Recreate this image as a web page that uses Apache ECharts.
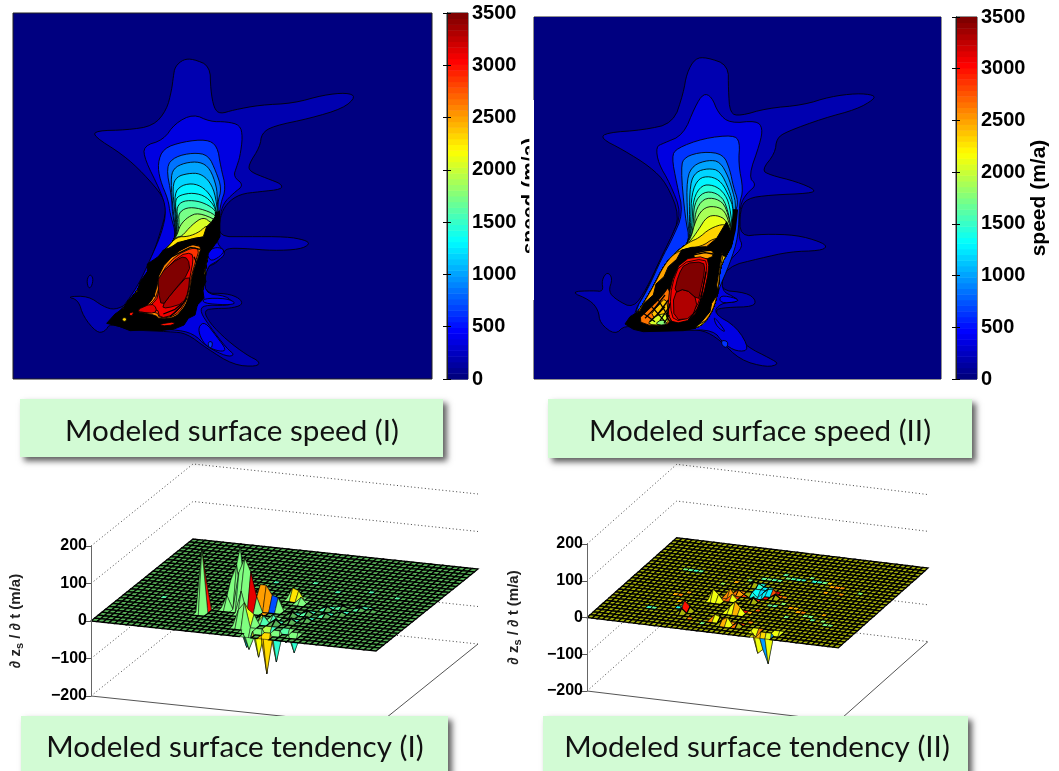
<!DOCTYPE html>
<html><head><meta charset="utf-8">
<style>html,body{margin:0;padding:0;background:#fff}#c{width:1059px;height:771px}</style>
<script src="https://cdn.jsdelivr.net/npm/echarts@6/dist/echarts.min.js"></script>
</head><body><div id="c"></div>
<script>
// ---------- data: speed maps (map units, contour level in m/a) ----------
const colorbarTicks = [0,500,1000,1500,2000,2500,3000,3500];
const zTicks = [-200,-100,0,100,200];
const captions = ['Modeled surface speed (I)','Modeled surface speed (II)','Modeled surface tendency (I)','Modeled surface tendency (II)'];

const tail1 = [[476,560],[462,610],[440,650],[428,770],[385,835],[345,868],[210,866],[150,845],[195,800],[240,740],[275,670],[320,625],[350,590]];
const levels1 = [170,170,330,620,850,1000,1150,1300,1420,1550,1700,1850,2050,2250,2450,420,420,620,420];
const contours1 = [
 [[340,110],[345,80],[370,58],[400,57],[450,78],[452,150],[462,205],[480,222],[520,210],[600,195],[700,190],[790,165],[860,158],[888,170],[850,205],[750,235],[640,258],[605,280],[600,320],[565,375],[570,395],[620,415],[665,432],[665,448],[600,455],[540,462],[500,490],[480,530],[475,590],[560,590],[680,590],[735,600],[750,612],[720,628],[640,632],[550,625],[500,625],[490,640],[470,670],[440,680],[430,760],[500,760],[540,775],[548,795],[510,805],[470,805],[430,810],[450,850],[500,900],[560,945],[600,965],[590,980],[520,975],[440,925],[380,880],[330,875],[210,870],[150,850],[135,875],[110,878],[70,830],[55,780],[20,770],[85,768],[130,800],[165,810],[205,790],[240,730],[280,640],[300,580],[320,510],[310,470],[250,400],[190,345],[100,288],[110,272],[200,270],[280,258],[320,210],[335,150]],
 [[80,720],[90,702],[100,715],[95,740],[85,745]],
 [[250,318],[310,300],[345,250],[400,222],[450,245],[500,245],[540,255],[548,290],[540,350],[530,380],[520,410],[552,435],[520,460],[490,490],[480,530],[478,590],[470,610],[500,640],[470,665],[440,680],[430,760],[500,768],[520,790],[500,797],[430,795],[420,815],[450,860],[500,925],[525,945],[500,950],[440,920],[400,880],[340,868],[210,866],[150,846],[190,800],[235,735],[270,660],[305,580],[320,510],[300,450],[255,360]],
 [[293,370],[310,325],[370,305],[440,298],[472,318],[482,380],[498,445],[482,490],[478,530]].concat(tail1,[[330,520],[325,480],[300,420]]),
 [[318,380],[345,350],[400,338],[445,345],[468,395],[485,445],[472,490]].concat(tail1,[[337,520],[335,470]]),
 [[332,420],[340,385],[375,368],[420,365],[450,385],[470,440],[472,480]].concat(tail1,[[340,520]]),
 [[337,440],[350,410],[385,400],[420,400],[450,425],[468,470]].concat(tail1,[[345,520]]),
 [[343,460],[365,435],[405,430],[440,450],[465,490]].concat(tail1,[[348,530]]),
 [[345,480],[360,465],[400,458],[440,470],[468,505]].concat(tail1,[[350,530]]),
 [[350,500],[370,482],[410,482],[445,495],[470,515]].concat(tail1,[[353,540]]),
 [[355,520],[380,502],[420,505],[470,525]].concat(tail1,[[358,550]]),
 [[360,555],[385,530],[415,518],[470,540]].concat(tail1),
 [[365,590],[395,555],[430,530],[455,550],[470,545]].concat(tail1),
 [[385,590],[420,575],[440,555],[465,570]].concat(tail1),
 [[380,600],[425,590],[440,600],[440,650],[428,770],[385,835],[345,868],[210,866],[150,845],[195,800],[240,740],[275,670],[320,625]],
 [[415,860],[435,845],[470,890],[500,930],[480,935],[440,920],[420,890]],
 [[440,635],[470,620],[495,630],[480,650],[450,665]],
 [[445,905],[458,905],[455,925],[445,920]],
 [[430,775],[500,775],[530,790],[500,795],[430,790]]
];
const blackBlob1 = [[478,512],[480,590],[462,618],[445,640],[440,660],[432,700],[438,725],[428,745],[432,775],[412,795],[405,825],[385,835],[372,855],[340,868],[300,872],[250,870],[210,872],[180,860],[140,850],[165,822],[190,805],[205,780],[232,755],[240,725],[262,695],[262,672],[295,650],[310,630],[335,622],[352,608],[385,600],[430,590],[440,560],[455,545]];
const coreLevels1 = [2600,2850,3100,3300,3450,3120,3000,2300,3000];
const core1 = [
 [[300,690],[345,640],[400,610],[425,618],[412,660],[398,700],[388,760],[376,800],[348,832],[300,838],[285,825],[245,818],[232,812],[270,790],[288,755]],
 [[305,695],[350,645],[400,622],[418,628],[405,670],[394,710],[384,765],[370,800],[345,828],[300,836],[290,815],[240,818],[234,812],[275,790],[292,765]],
 [[300,705],[360,645],[395,638],[400,660],[390,710],[383,760],[368,795],[340,825],[300,835],[292,805],[245,815],[278,792],[295,770]],
 [[305,800],[335,760],[390,700],[385,755],[370,790],[320,805]],
 [[295,705],[360,650],[385,655],[390,695],[335,760],[305,800],[295,755]],
 [[230,810],[275,790],[290,805],[285,820],[245,817]],
 [[205,820],[222,815],[215,830]],
 [[185,835],[198,832],[200,842],[190,845]],
 [[300,852],[345,845],[340,855],[305,858]]
];
const stairs1 = [
 [[345,632],[398,606],[428,612]],[[335,642],[395,613],[425,620]],[[325,655],[392,622],[420,628]],[[338,636],[396,610],[426,616]],
 [[402,650],[415,680],[405,730]],[[392,740],[400,760],[380,810]],[[350,830],[375,800],[392,770]],[[280,720],[276,750],[285,770]],[[262,770],[272,745],[282,715]],[[330,830],[362,800],[380,775]],[[310,822],[345,808],[368,790]]
];
const bandThin1 = [[[472,515],[472,560],[462,610]]];

const mapFrame2 = [[[-108,-99],[1113,-99],[1113,987],[-108,987]]];
const frameLevels2 = [0];
const labelMask2 = [[-122,150],[-108,150],[-108,750],[-122,750]];
const tail2 = [[490,570],[478,600],[450,650],[445,720],[430,780],[395,830],[350,838],[220,838],[175,815],[205,785],[250,710],[285,640],[325,600],[360,575]];
const levels2 = [170,330,620,850,1000,1150,1300,1450,1600,1750,1900,2100,2300,2500,420,620,420];
const contours2 = [
 [[340,130],[350,70],[375,25],[410,22],[475,45],[475,120],[480,190],[510,198],[590,175],[700,165],[780,140],[860,130],[912,135],[912,148],[860,178],[760,205],[650,245],[620,265],[615,310],[575,360],[600,375],[680,395],[738,420],[720,430],[600,435],[530,445],[510,480],[510,560],[580,552],[680,555],[750,575],[772,590],[750,602],[660,605],[570,625],[470,650],[445,720],[530,728],[558,750],[550,770],[470,772],[430,780],[470,830],[530,890],[600,925],[628,942],[590,952],[510,930],[450,870],[400,840],[340,840],[220,840],[165,825],[135,855],[90,820],[85,780],[60,750],[0,725],[70,722],[100,725],[95,690],[112,665],[128,685],[115,725],[140,750],[190,775],[230,715],[270,630],[300,570],[330,500],[290,400],[240,350],[160,300],[92,265],[110,248],[220,240],[310,220]],
 [[258,290],[280,280],[340,255],[375,170],[400,130],[425,140],[445,190],[480,220],[560,212],[578,235],[570,280],[535,380],[560,405],[530,430],[510,465],[505,560],[520,590],[480,630],[470,650],[450,720],[500,745],[505,755],[450,760],[430,790],[500,830],[540,900],[500,905],[460,880],[430,840],[340,840],[220,838],[185,800],[230,720],[270,630],[305,560],[335,490],[300,400],[265,340]],
 [[305,320],[320,295],[400,265],[490,255],[510,275],[505,340],[520,420],[508,460],[505,560],[480,640],[445,720],[430,780],[395,835],[220,835],[190,790],[235,715],[275,625],[305,570],[340,490],[320,400]],
 [[332,350],[345,320],[400,305],[460,312],[480,360],[490,410],[505,455],[495,490]].concat(tail2,[[345,500]]),
 [[350,385],[370,345],[415,330],[450,335],[475,380],[490,430],[498,465]].concat(tail2,[[352,500]]),
 [[360,400],[378,365],[415,355],[450,362],[478,420],[490,465]].concat(tail2,[[358,510]]),
 [[365,430],[385,385],[420,378],[455,395],[480,445],[490,475]].concat(tail2,[[362,510]]),
 [[370,445],[395,405],[430,405],[460,425],[480,465]].concat(tail2,[[366,520]]),
 [[372,460],[400,425],[440,428],[470,460]].concat(tail2,[[370,530]]),
 [[375,485],[400,445],[440,445],[470,470]].concat(tail2,[[374,540]]),
 [[378,505],[405,470],[445,470],[470,490]].concat(tail2),
 [[385,540],[410,500],[440,495],[470,510]].concat(tail2),
 [[385,565],[420,535],[465,520],[470,540]].concat(tail2),
 [[395,590],[430,565],[465,565],[470,580],[450,650],[445,720],[430,780],[395,830],[220,838],[175,815],[205,785],[250,710],[285,640],[325,600]],
 [[430,800],[445,815],[470,850],[440,830]],
 [[455,870],[475,875],[470,895],[455,885]],
 [[450,735],[500,745],[505,755],[450,760]]
];
const blackBlob2 = [[470,515],[488,560],[478,590],[455,610],[448,655],[440,705],[445,730],[425,760],[420,785],[395,815],[375,835],[340,842],[220,845],[190,838],[165,822],[180,800],[210,782],[222,760],[250,735],[258,702],[282,680],[295,650],[320,628],[335,600],[365,592],[410,590],[440,565]];
const coreLevels2 = [2650,2400,2050,1750,2500,3000,3100,3300,3450];
const core2 = [
 [[200,812],[245,770],[275,740],[300,705],[295,790],[305,820],[250,830]],
 [[240,798],[262,768],[288,742],[296,790],[285,812]],
 [[232,818],[262,795],[290,790],[296,822],[250,826]],
 [[255,822],[275,808],[292,818],[280,826]],
 [[370,612],[410,598],[432,605],[425,625],[375,628]],
 [[335,628],[410,618],[418,655],[398,745],[368,808],[310,822],[292,790],[300,705]],
 [[330,640],[405,625],[412,655],[392,745],[362,802],[312,815],[300,770],[305,705]],
 [[310,730],[345,715],[385,750],[365,805],[312,810]],
 [[325,675],[345,640],[400,635],[405,660],[390,730],[385,750],[345,715],[312,730]]
];
const stairs2 = [
 [[345,620],[405,608],[430,612]],[[360,612],[410,602],[432,600]],[[250,780],[285,735]],[[262,795],[295,750]],[[270,812],[298,770]],[[282,820],[298,795]],
 [[225,805],[270,760]],[[240,815],[285,770]],[[220,790],[255,815]],[[245,770],[285,815]],[[265,750],[295,800]],
 [[300,760],[290,800],[305,822]],[[408,665],[398,720],[388,770]],[[355,810],[380,780],[395,745]]
];
const bandThin2 = [[[497,478],[490,540],[478,590],[460,618]]];

// ---------- data: tendency surfaces ----------
// heights: [column, row, dz/dt in m/a]; cell colours: [column, row, colour index]
const surfaceBase1 = 0.5, surfaceBase2 = 0.61;
const heights1 = [
 [15,6,170],[15,7,90],[19,10,150],[19,9,110],[21,8,140],[20,8,100],[22,8,105],[21,7,60],
 [18,9,67],[18,8,35],[23,9,65],[24,9,65],[23,8,40],[25,9,40],[26,9,35],[26,13,30],[27,13,24],[28,12,16],[24,3,65],[23,3,45],[24,4,40],[25,4,28],[23,5,30],[26,5,18],
 [29,1,-100],[25,2,-44],[27,2,-67],[30,2,-75],[33,2,-45],[26,1,-40],[31,3,-30],[28,3,-28],
 [28,5,12],[30,6,10],[32,7,8],[34,9,7],[36,10,6],[38,12,5],[40,12,4],[29,8,10],[31,9,8],[33,11,8],[35,12,5],[27,6,14],[25,6,10]
];
const colors1 = [
 [15,6,.86],[19,10,.36],[18,10,.36],[21,8,.9],[22,8,.9],[22,7,.9],[23,8,.72],[23,9,.72],[24,8,.72],[24,9,.22],[25,9,.22],[25,8,.2],[24,7,.72],[26,13,.63],[25,13,.63],[26,12,.65],[27,12,.6],[24,3,.6],[23,3,.66],[24,4,.6],
 [28,1,.66],[29,1,.68],[29,0,.66],[28,0,.68],[26,1,.6],[25,1,.35],[27,1,.62],[30,1,.42],[33,1,.42],
 [27,5,.45],[28,5,.44],[29,6,.46],[30,6,.44],[31,7,.45],[32,7,.43],[33,8,.46],[34,9,.44],[35,10,.46],[36,10,.44],[37,11,.46],[38,12,.44],[39,12,.46],[29,8,.44],[30,8,.46],[31,9,.44],[32,10,.45],[33,11,.44],[34,11,.46],[26,4,.45],[28,3,.44],[30,3,.46],[27,3,.55],[25,5,.58],[12,10,.45],[6,9,.46],[20,17,.45],[26,18,.46],[31,16,.45],[36,17,.45],[41,16,.46]
];
const heights2 = [
 [15,6,25],[15,5,12],[16,6,10],[18,10,30],[19,10,18],[20,12,20],[21,11,14],[24,7,30],[23,7,14],[25,7,16],[25,3,20],[24,3,12],[22,4,15],[23,4,10],[27,3,10],
 [24,13,-20],[25,13,-24],[24,14,-14],[23,13,-8],[22,16,10],[23,16,8],[26,14,12],[27,14,14],[28,13,10],[25,11,12],[21,13,10],
 [32,1,-50],[33,1,-38],[34,1,-75],[31,2,-16],[35,2,-18]
];
const colors2 = [
 [15,6,.62],[14,6,.62],[14,5,.4],[15,5,.86],[18,10,.63],[17,10,.62],[19,10,.76],[20,12,.76],[21,11,.82],[20,11,.72],[24,7,.62],[23,7,.62],[24,6,.7],[25,7,.86],[25,3,.74],[24,3,.72],[24,2,.7],[22,4,.64],[23,4,.76],[27,3,.8],
 [24,13,.36],[25,13,.37],[24,14,.34],[23,13,.4],[25,12,.38],[22,16,.44],[23,16,.4],[26,14,.84],[27,14,.88],[28,13,.78],[25,11,.8],[21,13,.74],
 [32,1,.66],[31,1,.7],[33,1,.6],[34,1,.3],[33,0,.28],[31,2,.74],[35,2,.6],
 [8,18,.48],[9,18,.44],[10,18,.48],[7,18,.5],[8,5,.44],[9,5,.48],[31,19,.42],[30,20,.5],[32,19,.44],[33,19,.5],[25,20,.48],[27,19,.46],[28,19,.5],[41,17,.52],[36,8,.52],[33,7,.5],[40,7,.52],[28,10,.5],[29,10,.48],[30,11,.52],[20,17,.52],[16,15,.54],[35,16,.7],[38,16,.72],[18,16,.7],[39,9,.7],[17,3,.74],[20,2,.5],
 [19,11,.74],[20,10,.78],[21,12,.72],[22,12,.8],[20,13,.76],[23,14,.38],[24,15,.36],[25,14,.34],[25,15,.4],[26,13,.36],[23,15,.42],[26,12,.86],[27,13,.8],[29,13,.72],[22,7,.7],[26,7,.7],[27,8,.76],[21,3,.74],[26,2,.76],[26,3,.4],[28,4,.72],[12,8,.68],[13,6,.4],
 [22,18,.48],[23,18,.5],[24,18,.46],[25,18,.48],[26,19,.5],[28,19,.46],[29,19,.44],[34,19,.66],[35,18,.7],[36,18,.74],[37,18,.72],[32,10,.72],[33,10,.68],[34,9,.7],[35,9,.74],[37,8,.5],[38,7,.48],[41,6,.5],[42,6,.52],[10,10,.7],[11,10,.74],[12,11,.7]
];

// ---------- helpers ----------
const NU = 48, NV = 28;
function jet(t,k){
  t = Math.max(0,Math.min(1,t));
  const f = k===undefined?1:k;
  const c = x => Math.round(f*255*Math.max(0,Math.min(1,1.5-Math.abs(4*t-x))));
  return 'rgb('+c(3)+','+c(2)+','+c(1)+')';
}
function jetLevel(v){ return jet(Math.floor(Math.min(v,3499.9)/3500*64)/63); }
// corner cutting of a closed outline, only to draw contour lines as curves
function rounded(pts,n){
  let out=pts;
  for(let k=0;k<n;k++){
    const nx=[];
    out.forEach((p,i)=>{
      const q=out[(i+1)%out.length];
      nx.push([.75*p[0]+.25*q[0],.75*p[1]+.25*q[1]],[.25*p[0]+.75*q[0],.25*p[1]+.75*q[1]]);
    });
    out=nx;
  }
  return out;
}
function contourSeries(grid, levels, polys, z, width, smooth){
  return {type:'custom',xAxisIndex:grid.x,yAxisIndex:grid.y,clip:true,z:z,silent:true,animation:false,progressive:0,
    data:polys.map((p,i)=>[i,0]),
    renderItem:function(params,api){
      const i=api.value(0);
      return {type:'polygon',shape:{points:rounded(polys[i],smooth).map(p=>api.coord(p))},
        style:{fill:jetLevel(levels[i]),stroke:width?'rgba(0,0,0,0.85)':null,lineWidth:width}};
    }};
}
function pathSeries(grid, paths, width, z){
  return paths.map(p=>({type:'line',xAxisIndex:grid.x,yAxisIndex:grid.y,data:p,showSymbol:false,silent:true,animation:false,z:z,
    lineStyle:{color:'#000',width:width}}));
}
function fillBlob(grid, pts, z, fill){
  return {type:'custom',xAxisIndex:grid.x,yAxisIndex:grid.y,z:z,silent:true,animation:false,data:[[0,0]],clip:false,
    renderItem:(params,api)=>({type:'polygon',shape:{points:pts.map(p=>api.coord(p))},style:{fill:fill,stroke:fill==='#000'?'#000':null,lineWidth:1}})};
}
function colorbarSeries(grid){
  const bands = Array.from({length:64},(_,k)=>[k,k*3500/64]);
  return {type:'custom',xAxisIndex:grid.x,yAxisIndex:grid.y,z:2,silent:true,animation:false,data:bands,
    renderItem:function(params,api){
      const k=api.value(0), lo=api.value(1), hi=lo+3500/64;
      const a=api.coord([0,lo]), b=api.coord([1,hi]);
      return {type:'rect',shape:{x:a[0],y:b[1],width:b[0]-a[0],height:a[1]-b[1]+0.5},style:{fill:jet(k/63)}};
    }};
}
function surfaceParts(grid, proj, heights, colors, base){
  const Z = {}, C = {};
  heights.forEach(b=>{ Z[b[0]+'_'+b[1]]=b[2]; });
  colors.forEach(b=>{ C[b[0]+'_'+b[1]]=b[2]; });
  const z=(i,j)=>Z[i+'_'+j]||0;
  const P=(i,j,h)=>[proj.ux*i/NU+proj.vx*j/NV, h+proj.uz*i/NU+proj.vz*j/NV];
  const cells=[];
  for(let j=NV-1;j>=0;j--) for(let i=0;i<NU;i++) cells.push([i,j]);
  const surface={type:'custom',xAxisIndex:grid.x,yAxisIndex:grid.y,z:3,clip:false,silent:true,animation:false,progressive:0,
    data:cells,
    renderItem:function(params,api){
      const i=api.value(0), j=api.value(1);
      const corners=[[i,j],[i+1,j],[i+1,j+1],[i,j+1]];
      const pts=corners.map(q=>api.coord(P(q[0],q[1],z(q[0],q[1]))));
      const c=C[i+'_'+j];
      const steep=corners.some(q=>Math.abs(z(q[0],q[1]))>12);
      const flat=c===undefined&&!steep;
      return {type:'polygon',shape:{points:pts},style:{fill:flat?jet(base,0.7):jet(c===undefined?base:c),stroke:'#000',lineWidth:steep?0.5:(c===undefined?1.3:1)}};
    }};
  const wall=zTicks.map(h=>({type:'line',xAxisIndex:grid.x,yAxisIndex:grid.y,z:1,clip:false,silent:true,animation:false,showSymbol:false,
    data:[P(0,0,h),P(0,NV,h),P(NU,NV,h)],lineStyle:{color:'#444',width:1,type:[1,2.5]}}));
  const floor={type:'line',xAxisIndex:grid.x,yAxisIndex:grid.y,z:1,clip:false,silent:true,animation:false,showSymbol:false,
    data:[P(0,0,-200),P(NU,0,-200),P(NU,NV,-200)],lineStyle:{color:'#555',width:1}};
  return [floor].concat(wall,[surface]);
}

// ---------- layout ----------
const FONT='"Liberation Sans",Arial,sans-serif';
const grids=[
 {left:13,top:13,width:419,height:366},           // 0 map I
 {left:534,top:17,width:407,height:362},          // 1 map II
 {left:447,top:13,width:21,height:366},           // 2 bar I
 {left:956,top:17,width:21,height:362},           // 3 bar II
 {left:91,top:546,width:388,height:150},          // 4 surface I
 {left:587,top:544,width:344,height:147}          // 5 surface II
].map((g,i)=>Object.assign({show:i<4,borderColor:'#222',borderWidth:1,backgroundColor:i<2?jet(0):'transparent'},g));

const hiddenX=(g,min,max)=>({type:'value',gridIndex:g,min,max,show:false});
const xAxes=[hiddenX(0,-141,1116),hiddenX(1,-108,1113),hiddenX(2,0,1),hiddenX(3,0,1),hiddenX(4,0,1),hiddenX(5,0,1)];
const hiddenY=(g,min,max)=>({type:'value',gridIndex:g,min,max,inverse:true,show:false});
function barAxis(g,pos,labels){
  return {type:'value',gridIndex:g,position:pos,min:0,max:3500,interval:500,z:5,
    axisLine:{show:true,lineStyle:{color:'#222'}},splitLine:{show:false},
    axisTick:{show:true,inside:true,length:4,lineStyle:{color:'#000'}},
    axisLabel:{show:labels,margin:4,color:'#000',fontFamily:FONT,fontWeight:'bold',fontSize:20,
      formatter:v=>String(v),showMinLabel:true,showMaxLabel:true}};
}
function nameAxis(g,gap){
  return {type:'value',gridIndex:g,position:'right',min:0,max:3500,z:0,
    axisLine:{show:false},axisTick:{show:false},axisLabel:{show:false},splitLine:{show:false},
    name:'speed (m/a)',nameLocation:'middle',nameGap:gap,nameRotate:90,
    nameTextStyle:{color:'#000',fontFamily:FONT,fontWeight:'bold',fontSize:21}};
}
function zAxis(g,gap){
  return {type:'value',gridIndex:g,position:'left',min:-200,max:200,interval:100,z:6,
    axisLine:{show:true,onZero:false,lineStyle:{color:'#666',width:1}},
    axisTick:{show:true,length:6,lineStyle:{color:'#555'}},splitLine:{show:false},
    axisLabel:{margin:4,color:'#000',fontFamily:FONT,fontWeight:'bold',fontSize:16,
      formatter:v=>String(v).replace('-','\u2212')},
    name:'{a|\u2202 z}{s|s}{a| / \u2202 t (m/a)}',nameLocation:'middle',nameGap:gap,nameRotate:90,
    nameTextStyle:{color:'#222',fontFamily:FONT,rich:{
      a:{fontFamily:FONT,fontSize:15,color:'#222',fontWeight:'bold'},
      s:{fontFamily:FONT,fontSize:11,color:'#222',fontWeight:'bold',padding:[8,0,0,0]}}}};
}
const yAxes=[
 hiddenY(0,-81,1017),hiddenY(1,-99,987),
 barAxis(2,'right',true),barAxis(2,'left',false),nameAxis(2,52),
 barAxis(3,'right',true),barAxis(3,'left',false),nameAxis(3,52),
 zAxis(4,66),zAxis(5,64)
];
const mapI={x:0,y:0}, mapII={x:1,y:1};
const series=[].concat(
 contourSeries(mapI,levels1,contours1,2,1,2),
 fillBlob(mapI,blackBlob1,3,'#000'),
 pathSeries(mapI,bandThin1,5,3),
 contourSeries(mapI,coreLevels1,core1,4,1,1),
 pathSeries(mapI,stairs1,1.3,5),
 fillBlob(mapII,labelMask2,2,'#fff'),
 contourSeries(mapII,frameLevels2,mapFrame2,2,0,0),
 contourSeries(mapII,levels2,contours2,2,1,2),
 fillBlob(mapII,blackBlob2,3,'#000'),
 pathSeries(mapII,bandThin2,5,3),
 contourSeries(mapII,coreLevels2,core2,4,1,1),
 pathSeries(mapII,stairs2,1.3,5),
 colorbarSeries({x:2,y:2}),
 colorbarSeries({x:3,y:5}),
 surfaceParts({x:4,y:8},{ux:0.7345,vx:0.2629,uz:-80,vz:218.7},heights1,colors1,surfaceBase1),
 surfaceParts({x:5,y:9},{ux:0.7305,vx:0.2608,uz:-82.4,vz:216.9},heights2,colors2,surfaceBase2)
);

function caption(text,x,y,w,h,tx,ty){
  return [
   {type:'rect',z:20,shape:{x,y,width:w,height:h},silent:true,
    style:{fill:'#d2fbd4',shadowColor:'rgba(40,40,40,0.75)',shadowBlur:6,shadowOffsetX:4,shadowOffsetY:4}},
   {type:'text',z:21,x:tx,y:ty,silent:true,
    style:{text,fill:'#111',font:'29.6px Lato, sans-serif',textAlign:'center',textVerticalAlign:'middle'}}
  ];
}
const chart=echarts.init(document.getElementById('c'),null,{renderer:'canvas',width:1059,height:771});
chart.setOption({
 animation:false,backgroundColor:'#fff',
 grid:grids,xAxis:xAxes,yAxis:yAxes,series,
 graphic:{elements:[].concat(
   caption(captions[0],20,399,423,58,232,431),
   caption(captions[1],548,399,424,59,760,431),
   caption(captions[2],21,716,427,60,235,747),
   caption(captions[3],543,716,425,60,757,747)
 )}
});
</script></body></html>
